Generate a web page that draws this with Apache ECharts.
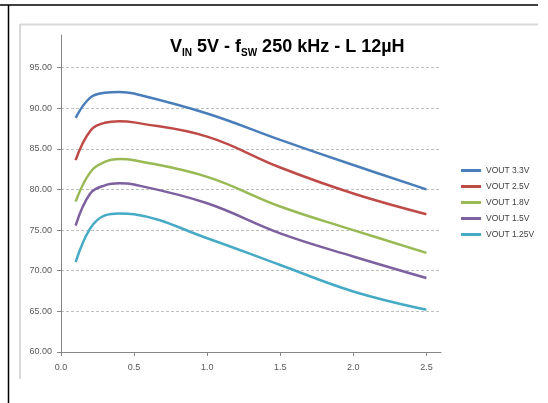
<!DOCTYPE html>
<html>
<head>
<meta charset="utf-8">
<script src="https://cdn.jsdelivr.net/npm/echarts@6/dist/echarts.min.js"></script>
<style>
  html, body { margin: 0; padding: 0; background: #fff; }
  #chart { width: 548px; height: 403px; }
</style>
</head>
<body>
<div id="chart"></div>
<script>
// output current (A)
const iout = [0.1, 0.2, 0.3, 0.4, 0.5, 1.0, 1.5, 2.0, 2.5];

// efficiency (%) for each output voltage
const vout33 = [88.8, 91.3, 91.9, 92.0, 91.8, 89.35, 86.1, 83.0, 80.0];
const vout25 = [83.6, 87.2, 88.2, 88.4, 88.25, 86.5, 82.7, 79.5, 76.95];
const vout18 = [78.5, 82.1, 83.4, 83.75, 83.6, 81.55, 77.9, 75.0, 72.2];
const vout15 = [75.55, 79.5, 80.5, 80.75, 80.6, 78.3, 74.6, 71.75, 69.1];
const vout125 = [71.05, 75.2, 76.8, 77.05, 76.95, 74.0, 70.7, 67.45, 65.2];

const seriesNames = ['VOUT 3.3V', 'VOUT 2.5V', 'VOUT 1.8V', 'VOUT 1.5V', 'VOUT 1.25V'];
const seriesData = [vout33, vout25, vout18, vout15, vout125];
const colors = ['#4A7EBB', '#BE4B48', '#98B954', '#7D60A0', '#46AAC5'];

const xTicks = [0, 0.5, 1.0, 1.5, 2.0, 2.5];
const yTicks = [60, 65, 70, 75, 80, 85, 90, 95];

const chart = echarts.init(document.getElementById('chart'));

function pairs(values) {
  return values.map((v, i) => [iout[i], v]);
}

chart.setOption({
  color: colors,
  animation: false,
  textStyle: { fontFamily: 'Liberation Sans' },
  title: {
    text: '{b|V}{s|IN}{b| 5V - f}{s|SW}{b| 250 kHz - L 12µH}',
    left: 165,
    top: 32,
    textStyle: {
      rich: {
        b: { fontSize: 18, fontWeight: 'bold', color: '#000', fontFamily: 'Liberation Sans', lineHeight: 21 },
        s: { fontSize: 10, fontWeight: 'bold', color: '#000', fontFamily: 'Liberation Sans', verticalAlign: 'bottom', lineHeight: 14 }
      }
    }
  },
  graphic: [
    { type: 'line', shape: { x1: 0, y1: 5, x2: 538, y2: 5 }, style: { stroke: '#000', lineWidth: 1.5 } },
    { type: 'line', shape: { x1: 8.5, y1: 5, x2: 8.5, y2: 403 }, style: { stroke: '#000', lineWidth: 1.5 } },
    { type: 'line', shape: { x1: 20, y1: 24.5, x2: 538, y2: 24.5 }, style: { stroke: '#d9d9d9', lineWidth: 2 } },
    { type: 'line', shape: { x1: 20, y1: 24, x2: 20, y2: 379 }, style: { stroke: '#d9d9d9', lineWidth: 2 } }
  ],
  legend: {
    orient: 'vertical',
    left: 461,
    top: 165,
    padding: 0,
    itemWidth: 20,
    itemHeight: 3,
    itemGap: 5,
    icon: 'rect',
    textStyle: { fontSize: 8.5, color: '#404040', lineHeight: 11 },
    data: seriesNames
  },
  grid: { left: 61, right: 107, top: 35, bottom: 51 },
  xAxis: {
    type: 'value',
    min: 0,
    max: 2.6,
    interval: 0.5,
    axisLine: { show: true, lineStyle: { color: '#868686' } },
    axisTick: { show: true, length: 4, customValues: xTicks, lineStyle: { color: '#868686' } },
    axisLabel: {
      customValues: xTicks,
      fontSize: 9,
      color: '#595959',
      margin: 11,
      formatter: v => v.toFixed(1)
    },
    splitLine: { show: false }
  },
  yAxis: {
    type: 'value',
    min: 60,
    max: 99,
    interval: 5,
    axisLine: { show: true, lineStyle: { color: '#868686' } },
    axisTick: { show: true, length: 4, customValues: yTicks, lineStyle: { color: '#868686' } },
    axisLabel: {
      customValues: yTicks,
      fontSize: 9,
      color: '#595959',
      margin: 9,
      formatter: v => v.toFixed(2)
    },
    splitLine: { show: true, lineStyle: { color: '#bfbfbf', type: [3, 2], width: 1 } }
  },
  series: seriesNames.map((name, i) => ({
    name: name,
    type: 'line',
    data: pairs(seriesData[i]),
    smooth: 0.4,
    showSymbol: false,
    lineStyle: { width: 2.5 }
  }))
});
</script>
</body>
</html>
